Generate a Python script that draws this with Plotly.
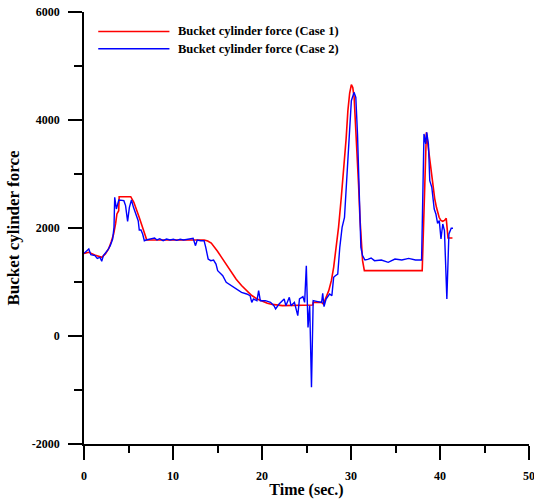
import plotly.graph_objects as go

# Case 1 (red)
t1 = [0, 0.54, 1.2, 2.0, 2.4, 2.76, 3.05, 3.33, 3.55, 3.7, 3.9, 3.95, 5.25, 5.6, 6.2, 6.8, 7.05,
      13.5, 13.9, 14.3, 14.6, 15.0, 15.4, 16.0, 16.55, 17.1, 17.7, 18.3, 18.85, 19.4, 20.0,
      20.6, 21.15, 21.7, 22.3, 25.7, 25.75, 26.7, 26.9, 27.5, 27.8, 28.05, 28.3, 28.6, 28.9,
      29.2, 29.45, 29.65, 29.85, 30.04, 30.2, 30.35, 30.5, 30.7, 30.85, 31.0, 31.15, 31.3,
      31.5, 38.0, 38.47, 38.6, 38.85, 39.0, 39.2, 39.4, 39.6, 39.9, 40.1, 40.3, 40.5, 40.7,
      40.9, 41.4]
f1 = [1530, 1550, 1500, 1457, 1520, 1611, 1740, 1889, 2080, 2260, 2321, 2580, 2580, 2475, 2198, 1889, 1778,
      1778, 1760, 1720, 1660, 1570, 1470, 1320, 1180, 1050, 935, 835, 750, 690, 640,
      605, 585, 570, 562, 574, 623, 623, 592, 840, 1030, 1272, 1600, 2012, 2550,
      3124, 3650, 4173, 4500, 4654, 4600, 4420, 4000, 3432, 2800, 2198, 1750, 1395,
      1210, 1210, 3772, 3600, 3309, 3000, 2753, 2550, 2383, 2198, 2140, 2124, 2140, 2179,
      1815, 1815]

# Case 2 (blue)
t2 = [0, 0.27, 0.54, 0.77, 1.23, 1.49, 1.80, 1.99, 2.18, 2.68, 2.95, 3.22, 3.37, 3.45,
      3.64, 3.91, 4.21, 4.48, 4.67, 4.90, 5.10, 5.33, 5.56, 5.82, 6.09, 6.21, 6.40,
      6.59, 6.78, 6.97, 7.36, 7.93, 8.20, 8.51, 8.89, 9.27, 9.66, 10.04, 10.42, 10.80,
      11.19, 11.57, 11.95, 12.26, 12.53, 12.72, 13.10, 13.49, 13.68, 13.95, 14.25,
      14.56, 14.83, 15.02, 15.40, 15.59, 15.98, 16.55, 16.93, 17.13, 17.51, 17.70,
      18.28, 18.66, 18.85, 19.04, 19.43, 19.62, 19.81, 20.38, 20.96, 21.34, 21.53,
      21.92, 22.49, 22.68, 23.07, 23.26, 23.64, 23.83, 24.02, 24.21, 24.60, 24.79,
      24.98, 25.17, 25.36, 25.56, 25.75, 26.13, 26.70, 26.82, 26.97, 27.20, 27.59,
      27.85, 28.05, 28.24, 28.51, 28.74, 29.00, 29.27, 29.46, 29.77, 30.04, 30.34,
      30.54, 30.73, 30.92, 31.11, 31.30, 31.57, 31.88, 32.26, 32.64, 33.41, 34.18,
      34.94, 35.71, 36.48, 37.24, 37.93, 38.20, 38.39, 38.51, 38.70, 38.85, 39.08,
      39.35, 39.54, 39.73, 39.92, 40.11, 40.31, 40.50, 40.77, 41.00, 41.26, 41.46]
f2 = [1531, 1568, 1611, 1506, 1488, 1438, 1457, 1383, 1488, 1593, 1673, 1796, 2012, 2568,
      2352, 2519, 2506, 2506, 2414, 2124, 2383, 2519, 2383, 2259, 2136, 1963, 1963,
      1889, 1765, 1778, 1790, 1815, 1778, 1802, 1765, 1796, 1778, 1790, 1772, 1790,
      1778, 1790, 1802, 1809, 1673, 1778, 1765, 1765, 1642, 1426, 1395,
      1407, 1333, 1210, 1148, 1117, 994, 932, 901, 870, 840, 809,
      778, 747, 623, 685, 654, 840, 654, 654, 623, 562, 500,
      593, 685, 562, 716, 562, 623, 469, 377, 685, 728, 623,
      1302, 160, 562, -950, 654, 642, 623, 790, 543, 685, 778,
      747, 1086, 1117, 1148, 1642, 2012, 2198, 2753, 3617, 4358, 4512,
      4420, 3741, 2506, 1642, 1488, 1407, 1420, 1444, 1395, 1407, 1364,
      1426, 1407, 1438, 1407, 1407, 3741, 3556, 3772, 3556, 2876, 2753,
      2352, 2259, 2086, 2136, 1796, 2074, 1951, 685, 1889, 1994, 1994]

names = ["Bucket cylinder force (Case 1)", "Bucket cylinder force (Case 2)"]
colors = ["#ff0000", "#0000ff"]

x_ticks = [0, 10, 20, 30, 40, 50]
y_ticks = [-2000, 0, 2000, 4000, 6000]

FONT = "Liberation Serif"

fig = go.Figure()
fig.add_trace(go.Scatter(x=t1, y=f1, mode="lines", name=names[0],
                         line=dict(color=colors[0], width=1.6)))
fig.add_trace(go.Scatter(x=t2, y=f2, mode="lines", name=names[1],
                         line=dict(color=colors[1], width=1.4)))

# manual legend
leg_y = [0.955, 0.915]
for i in range(2):
    fig.add_shape(type="line", xref="paper", yref="paper",
                  x0=0.032, x1=0.192, y0=leg_y[i], y1=leg_y[i],
                  line=dict(color=colors[i], width=1.6))
    fig.add_annotation(xref="paper", yref="paper", x=0.206, y=leg_y[i],
                       text="<b>" + names[i] + "</b>", showarrow=False,
                       xanchor="left", yanchor="middle",
                       font=dict(family=FONT, size=12.5, color="black"))

fig.update_layout(
    width=534, height=500,
    margin=dict(l=84, r=5, t=12, b=56),
    paper_bgcolor="white", plot_bgcolor="white",
    showlegend=False,
    font=dict(family=FONT, color="black"),
)
fig.update_xaxes(
    range=[0, 50], tickvals=x_ticks, ticktext=["<b>%d</b>" % v for v in x_ticks],
    showgrid=False, zeroline=False, showline=True, linecolor="black", linewidth=1.5,
    ticks="outside", ticklen=14, tickwidth=1.5, tickcolor="black",
    minor=dict(tickvals=[5, 15, 25, 35, 45], ticks="outside", ticklen=7,
               tickwidth=1.5, tickcolor="black"),
    tickfont=dict(family=FONT, size=12, color="black"), ticklabelstandoff=6,
    ticklabeloverflow="allow",
    title=dict(text="<b>Time (sec.)</b>", font=dict(family=FONT, size=16, color="black"),
               standoff=2),
    automargin=False,
)
fig.update_yaxes(
    range=[-2000, 6000], tickvals=y_ticks, ticktext=["<b>%d</b>" % v for v in y_ticks],
    showgrid=False, zeroline=False, showline=True, linecolor="black", linewidth=1.5,
    ticks="outside", ticklen=14, tickwidth=1.5, tickcolor="black",
    minor=dict(tickvals=[-1000, 1000, 3000, 5000], ticks="outside", ticklen=8,
               tickwidth=1.5, tickcolor="black"),
    tickfont=dict(family=FONT, size=12, color="black"), ticklabelstandoff=6,
    title=dict(text="<b>Bucket cylinder force</b>", font=dict(family=FONT, size=17, color="black"),
               standoff=8),
    automargin=False,
)

fig.write_html("out.html")
